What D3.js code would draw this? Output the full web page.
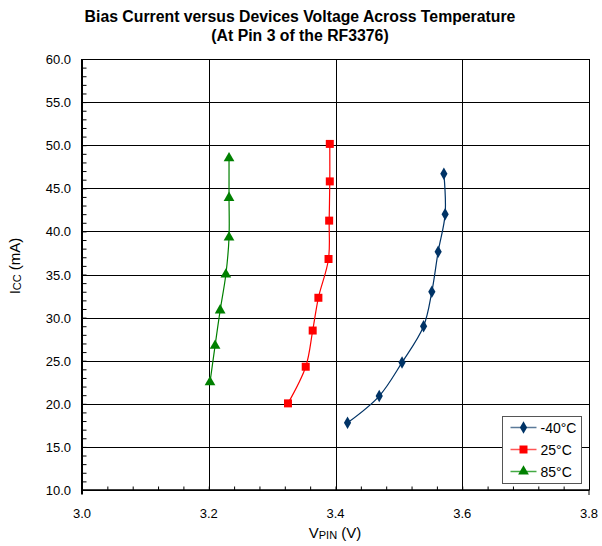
<!DOCTYPE html>
<html>
<head>
<meta charset="utf-8">
<script src="https://cdn.jsdelivr.net/npm/d3@7"></script>
<style>
    body { margin: 0; background: #fff; }
    #grafico text { font-family: "Liberation Sans", Arial, sans-serif; fill: #000; }
</style>
</head>
<body>
<div id="grafico"></div>
<script>
// Dados
const series = ['-40°C', '25°C', '85°C'];
const vMenos40 = [3.419, 3.469, 3.505, 3.539, 3.552, 3.562, 3.573, 3.571];
const iMenos40 = [17.8, 20.9, 24.8, 29.0, 33.0, 37.65, 42.0, 46.7];
const v25 = [3.325, 3.353, 3.364, 3.373, 3.389, 3.390, 3.391, 3.391];
const i25 = [20.05, 24.3, 28.5, 32.3, 36.8, 41.25, 45.8, 50.15];
const v85 = [3.202, 3.210, 3.218, 3.227, 3.232, 3.232, 3.232];
const i85 = [22.5, 26.75, 30.85, 35.0, 39.3, 43.9, 48.5];
const xTicks = [3.0, 3.2, 3.4, 3.6, 3.8];
const yTicks = [10, 15, 20, 25, 30, 35, 40, 45, 50, 55, 60];

const largura = 602, altura = 546;
const margin = { top: 59, bottom: 56, left: 82, right: 13 };

const cores = ['#003366', '#ff0000', '#008000'];
const simbolos = [d3.symbolDiamond, d3.symbolSquare, d3.symbolTriangle];
const tamanhos = [45, 64, 50];

const dados = [
    vMenos40.map((v, i) => ({ v, i: iMenos40[i] })),
    v25.map((v, i) => ({ v, i: i25[i] })),
    v85.map((v, i) => ({ v, i: i85[i] }))
];

const svg = d3.select('#grafico').append('svg')
    .attr('width', largura)
    .attr('height', altura);

// Escalas
const x = d3.scaleLinear().domain([3.0, 3.8]).range([margin.left, largura - margin.right]);
const y = d3.scaleLinear().domain([10, 60]).range([altura - margin.bottom, margin.top]);

// Grade
svg.append('g').selectAll('line').data(yTicks).enter().append('line')
    .attr('x1', x(3.0)).attr('x2', x(3.8))
    .attr('y1', d => Math.round(y(d)) + 0.5).attr('y2', d => Math.round(y(d)) + 0.5)
    .attr('stroke', '#000').attr('stroke-width', 1);
svg.append('g').selectAll('line').data(xTicks).enter().append('line')
    .attr('y1', y(10)).attr('y2', y(60))
    .attr('x1', d => Math.round(x(d)) + 0.5).attr('x2', d => Math.round(x(d)) + 0.5)
    .attr('stroke', '#000').attr('stroke-width', 1);

// Eixo X (ticks para dentro)
const eixoX = svg.append('g')
    .attr('transform', `translate(0, ${Math.round(y(10)) + 0.5})`)
    .call(d3.axisBottom(x).tickValues(d3.range(3.0, 3.8001, 0.04)).tickSize(-4).tickFormat(''));
eixoX.select('.domain').remove();
eixoX.selectAll('line').attr('stroke', '#000');
svg.append('g').selectAll('text').data(xTicks).enter().append('text')
    .attr('x', d => x(d)).attr('y', 518)
    .attr('text-anchor', 'middle').style('font-size', '13px')
    .text(d => d.toFixed(1));

// Eixo Y (ticks para dentro)
const eixoY = svg.append('g')
    .attr('transform', `translate(${Math.round(x(3.0)) + 0.5}, 0)`)
    .call(d3.axisLeft(y).tickValues(d3.range(10, 60.001, 1)).tickSize(-4).tickFormat(''));
eixoY.select('.domain').remove();
eixoY.selectAll('line').attr('stroke', '#000');
svg.append('g').selectAll('text').data(yTicks).enter().append('text')
    .attr('x', 71).attr('y', d => y(d) + 5)
    .attr('text-anchor', 'end').style('font-size', '13px')
    .text(d => d.toFixed(1));

// Linhas dos eixos
svg.append('line').attr('x1', x(3.0)).attr('x2', x(3.0)).attr('y1', y(10) + 4).attr('y2', y(60))
    .attr('stroke', '#000').attr('stroke-width', 2);
svg.append('line').attr('x1', x(3.0)).attr('x2', x(3.8)).attr('y1', y(10)).attr('y2', y(10))
    .attr('stroke', '#000').attr('stroke-width', 1.5);
svg.append('line').attr('x1', x(3.0)).attr('x2', x(3.0)).attr('y1', y(10)).attr('y2', y(10) + 5)
    .attr('stroke', '#000');
svg.append('line').attr('x1', x(3.8)).attr('x2', x(3.8)).attr('y1', y(10)).attr('y2', y(10) + 5)
    .attr('stroke', '#000');

// Séries
const linha = d3.line().x(d => x(d.v)).y(d => y(d.i)).curve(d3.curveCatmullRom.alpha(0.5));
dados.forEach((serie, k) => {
    svg.append('path').datum(serie)
        .attr('d', linha)
        .attr('fill', 'none')
        .attr('stroke', cores[k])
        .attr('stroke-width', 1.2);
    svg.append('g').selectAll('path').data(serie).enter().append('path')
        .attr('d', d3.symbol().type(simbolos[k]).size(tamanhos[k]))
        .attr('transform', d => `translate(${x(d.v)}, ${y(d.i)})`)
        .attr('fill', cores[k]);
});

// Legenda
const legenda = svg.append('g').attr('transform', 'translate(502.5, 416.5)');
legenda.append('rect').attr('width', 79).attr('height', 67)
    .attr('fill', '#fff').attr('stroke', '#555').attr('stroke-width', 1);
const coresLegenda = ['#5b7a99', '#ff5555', '#44aa44'];
series.forEach((nome, k) => {
    const yy = 11 + k * 22;
    legenda.append('line').attr('x1', 8).attr('x2', 34).attr('y1', yy).attr('y2', yy)
        .attr('stroke', coresLegenda[k]).attr('stroke-width', 1.5);
    legenda.append('path')
        .attr('d', d3.symbol().type(simbolos[k]).size(tamanhos[k]))
        .attr('transform', `translate(21, ${yy})`)
        .attr('fill', cores[k]);
    legenda.append('text').attr('x', 38).attr('y', yy + 5)
        .style('font-size', '14px').text(nome);
});

// Títulos
svg.append('text').attr('x', 300).attr('y', 22).attr('text-anchor', 'middle')
    .style('font-size', '15.8px').style('font-weight', 'bold')
    .text('Bias Current versus Devices Voltage Across Temperature');
svg.append('text').attr('x', 300).attr('y', 41).attr('text-anchor', 'middle')
    .style('font-size', '15.8px').style('font-weight', 'bold')
    .text('(At Pin 3 of the RF3376)');

// Título eixo X
const tx = svg.append('text').attr('x', 335).attr('y', 538).attr('text-anchor', 'middle')
    .style('font-size', '15px');
tx.append('tspan').text('V');
tx.append('tspan').attr('dy', 1).style('font-size', '11px').text('PIN');
tx.append('tspan').attr('dy', -1).text(' (V)');

// Título eixo Y
const ty = svg.append('text').attr('transform', 'translate(20, 266) rotate(-90)')
    .attr('text-anchor', 'middle').style('font-size', '15px');
ty.append('tspan').text('I');
ty.append('tspan').attr('dy', 1).style('font-size', '11px').text('CC');
ty.append('tspan').attr('dy', -1).text(' (mA)');
</script>
</body>
</html>
